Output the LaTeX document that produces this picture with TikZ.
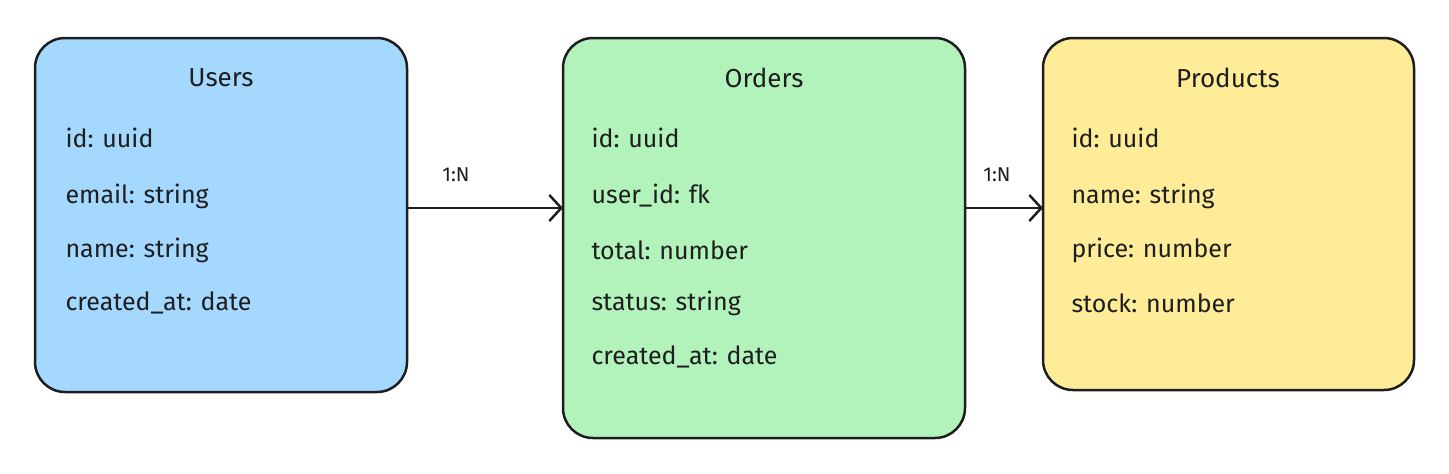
\documentclass[tikz,border=0pt]{standalone}
\usepackage{fontspec}
\setmainfont{Fira Sans}
\usetikzlibrary{arrows.meta}
\definecolor{ublue}{HTML}{A5D8FF}
\definecolor{ogreen}{HTML}{B2F2BB}
\definecolor{pyellow}{HTML}{FFEC99}
\definecolor{ink}{HTML}{1E1E1E}
\begin{document}
\begin{tikzpicture}[x=1pt,y=-1pt,
  box/.style={draw=ink,line width=2.5pt,rounded corners=30pt},
  title/.style={font=\fontsize{26}{30}\selectfont,text=ink,anchor=center},
  field/.style={font=\fontsize{25}{30}\selectfont,text=ink,anchor=west},
  conn/.style={draw=ink,line width=2.5pt,-{Straight Barb[length=12pt,width=26pt,line width=2.5pt]}},
  lbl/.style={font=\fontsize{20}{24}\selectfont,text=ink}]
\useasboundingbox (0,0) rectangle (1449,474);
\filldraw[box,fill=ublue] (35,38) rectangle (407,392);
\filldraw[box,fill=ogreen] (563,38) rectangle (965,438);
\filldraw[box,fill=pyellow] (1043,38) rectangle (1414,390);
\coordinate (uR) at (407,208);
\coordinate (oL) at (563,208);
\coordinate (oR) at (965,208);
\coordinate (pL) at (1043,208);
\node[title] (ut) at (221,78) {Users};
\node[title] (ot) at (764,78) {Orders};
\node[title] (pt) at (1228,78) {Products};
\node[field] (u1) at (62,138) {id: uuid};
\node[field] (u2) at (62,196) {email: string};
\node[field] (u3) at (62,250) {name: string};
\node[field] (u4) at (62,303) {created\_at: date};
\node[field] (o1) at (588,138) {id: uuid};
\node[field] (o2) at (588,196) {user\_id: fk};
\node[field] (o3) at (588,250) {total: number};
\node[field] (o4) at (588,303) {status: string};
\node[field] (o5) at (588,357) {created\_at: date};
\node[field] (p1) at (1068,138) {id: uuid};
\node[field] (p2) at (1068,196) {name: string};
\node[field] (p3) at (1068,250) {price: number};
\node[field] (p4) at (1068,303) {stock: number};
\draw[conn] (uR) -- (oL);
\draw[conn] (oR) -- (pL);
\node[lbl] (l1) at (456,175) {1:N};
\node[lbl] (l2) at (997,175) {1:N};
\end{tikzpicture}
\end{document}
